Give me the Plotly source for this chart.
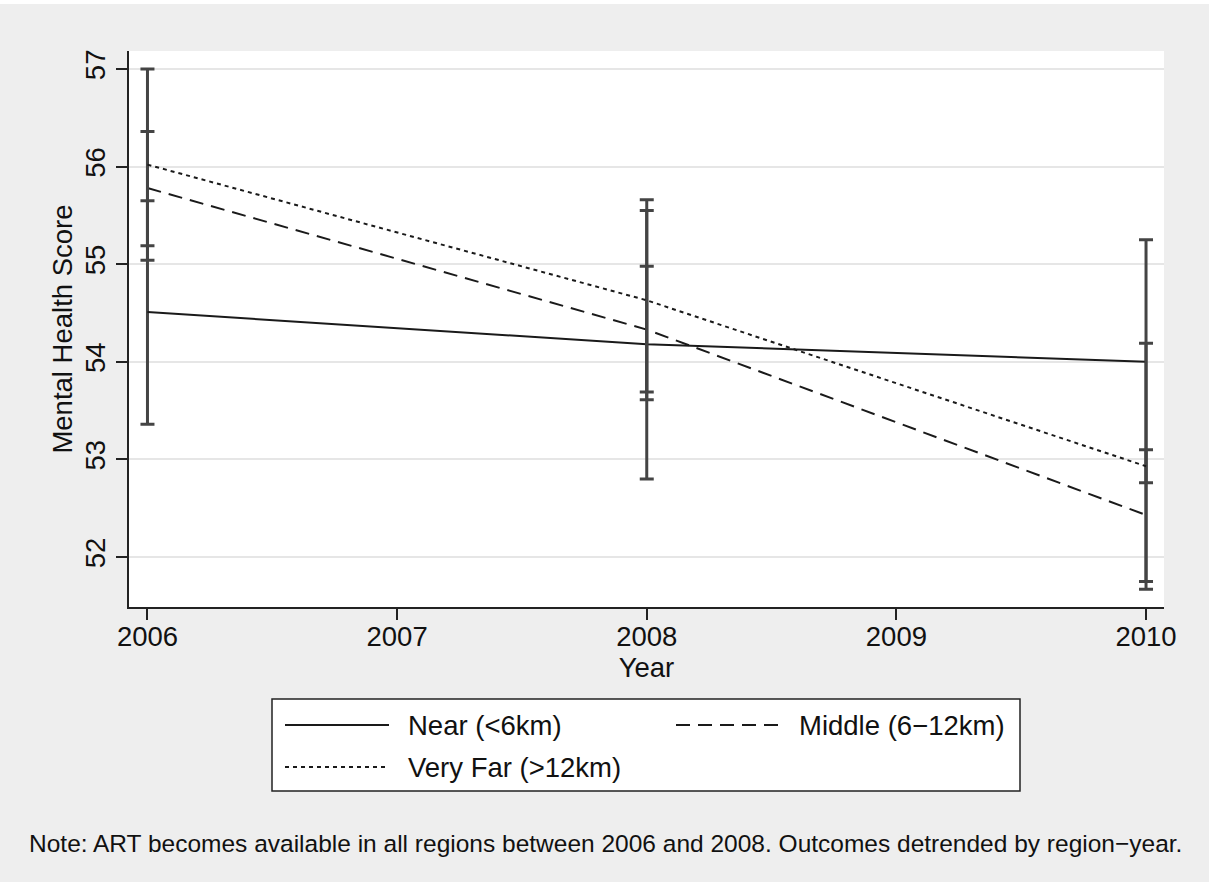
import plotly.graph_objects as go

# Survey years and group-specific mean mental health scores with 95% CI bounds
years = [2006, 2008, 2010]

near_mean = [54.51, 54.18, 54.00]
near_lo = [53.36, 52.80, 52.76]
near_hi = [55.65, 55.55, 55.25]

middle_mean = [55.78, 54.33, 52.43]
middle_lo = [55.19, 53.69, 51.75]
middle_hi = [56.36, 54.98, 53.10]

far_mean = [56.02, 54.63, 52.93]
far_lo = [55.04, 53.61, 51.67]
far_hi = [57.00, 55.66, 54.19]

y_ticks = [52, 53, 54, 55, 56, 57]
x_ticks = [2006, 2007, 2008, 2009, 2010]

series_names = ["Near (<6km)", "Middle (6\u221212km)", "Very Far (>12km)"]
note_text = ("Note: ART becomes available in all regions between 2006 and 2008. "
             "Outcomes detrended by region\u2212year.")

FONT = "Liberation Sans, Arial, sans-serif"
W, H = 1209, 882
ML, MR, MT, MB = 129, 45, 51, 275
PW, PH = W - ML - MR, H - MT - MB

LINE_COL = "#1a1a1a"
BAR_COL = "#444444"
DASHES = ["solid", "14px,8px", "4px,4px"]


def px_x(x):
    return (x - ML) / PW


def px_y(y):
    return (H - MB - y) / PH


fig = go.Figure()

groups = [
    (near_mean, near_lo, near_hi),
    (middle_mean, middle_lo, middle_hi),
    (far_mean, far_lo, far_hi),
]

for name, dash, (mean, lo, hi) in zip(series_names, DASHES, groups):
    fig.add_trace(go.Scatter(
        x=years,
        y=mean,
        mode="lines",
        name=name,
        line=dict(color=LINE_COL, width=2, dash=dash),
        error_y=dict(
            type="data",
            symmetric=False,
            array=[h - m for h, m in zip(hi, mean)],
            arrayminus=[m - l for m, l in zip(mean, lo)],
            color=BAR_COL,
            thickness=3,
            width=7,
        ),
        showlegend=False,
    ))

shapes = []
annotations = []

# thin white strip along the top edge of the canvas
shapes.append(dict(type="rect", xref="paper", yref="paper",
                   x0=px_x(0), x1=px_x(W), y0=px_y(4), y1=px_y(0),
                   fillcolor="white", line=dict(width=0), layer="below"))

# legend box
shapes.append(dict(type="rect", xref="paper", yref="paper",
                   x0=px_x(272), x1=px_x(1020), y0=px_y(791), y1=px_y(699),
                   fillcolor="white", line=dict(color="#222222", width=1.5)))

legend_slots = [(285, 725), (676, 725), (285, 767)]
for name, dash, (sx, sy) in zip(series_names, DASHES, legend_slots):
    shapes.append(dict(type="line", xref="paper", yref="paper",
                       x0=px_x(sx), x1=px_x(sx + 104), y0=px_y(sy), y1=px_y(sy),
                       line=dict(color=LINE_COL, width=2, dash=dash)))
    annotations.append(dict(text=name, xref="paper", yref="paper",
                            x=px_x(sx + 121), y=px_y(sy), xanchor="left",
                            yanchor="middle", showarrow=False,
                            font=dict(family=FONT, size=27.5, color="#111111")))

annotations.append(dict(text=note_text, xref="paper", yref="paper",
                        x=px_x(27), y=px_y(843), xanchor="left", yanchor="middle",
                        showarrow=False,
                        font=dict(family=FONT, size=24.5, color="#111111")))

fig.update_layout(
    width=W,
    height=H,
    margin=dict(l=ML, r=MR, t=MT, b=MB, pad=0),
    paper_bgcolor="#eeeeee",
    plot_bgcolor="white",
    font=dict(family=FONT, size=28, color="#111111"),
    showlegend=False,
    shapes=shapes,
    annotations=annotations,
    xaxis=dict(
        range=[2005.926, 2010.072],
        tickvals=x_ticks,
        ticks="outside",
        ticklen=11,
        tickwidth=1.5,
        tickcolor="#222222",
        ticklabelstandoff=-7,
        showline=True,
        linecolor="#222222",
        linewidth=1.5,
        showgrid=False,
        zeroline=False,
        tickfont=dict(size=27.5),
        title=dict(text="Year", font=dict(size=27.5), standoff=0),
        automargin=False,
    ),
    yaxis=dict(
        range=[51.488, 57.184],
        tickvals=y_ticks,
        ticks="outside",
        ticklen=11,
        tickwidth=1.5,
        tickcolor="#222222",
        tickangle=-90,
        showline=True,
        linecolor="#222222",
        linewidth=1.5,
        showgrid=True,
        gridcolor="#e6e6e6",
        gridwidth=2,
        zeroline=False,
        tickfont=dict(size=27.5),
        title=dict(text="Mental Health Score", font=dict(size=27.5), standoff=0),
        automargin=False,
    ),
)

fig.write_html("out.html")
